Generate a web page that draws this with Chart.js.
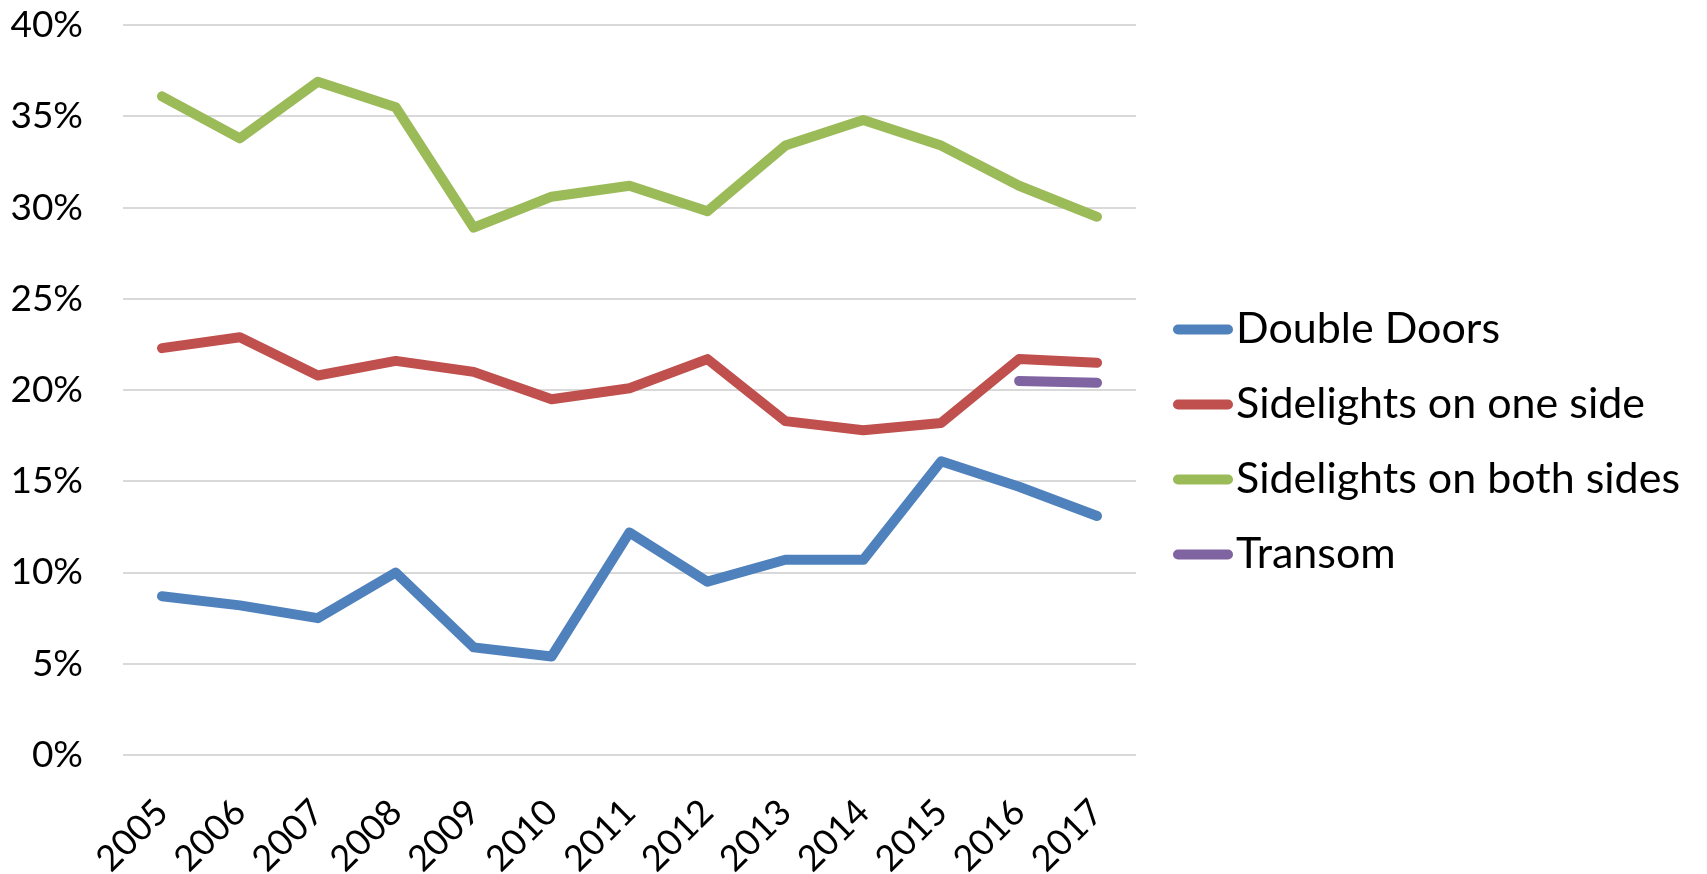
<!DOCTYPE html>
<html>
<head>
<meta charset="utf-8">
<script src="https://cdn.jsdelivr.net/npm/chart.js@4/dist/chart.umd.min.js"></script>
<style>
  html, body { margin: 0; padding: 0; background: #fff; }
  #wrap { width: 1707px; height: 874px; position: relative; }
</style>
</head>
<body>
<div id="wrap"><canvas id="c"></canvas></div>
<script>
const years = ['2005','2006','2007','2008','2009','2010','2011','2012','2013','2014','2015','2016','2017'];
const doubleDoors = [8.7, 8.2, 7.5, 10.0, 5.9, 5.4, 12.2, 9.5, 10.7, 10.7, 16.1, 14.7, 13.1];
const sidelightsOne = [22.3, 22.9, 20.8, 21.6, 21.0, 19.5, 20.1, 21.7, 18.3, 17.8, 18.2, 21.7, 21.5];
const sidelightsBoth = [36.1, 33.8, 36.9, 35.5, 28.9, 30.6, 31.2, 29.8, 33.4, 34.8, 33.4, 31.2, 29.5];
const transom = [null, null, null, null, null, null, null, null, null, null, null, 20.5, 20.4];
const yTicks = [0, 5, 10, 15, 20, 25, 30, 35, 40];

const seriesNames = ['Double Doors', 'Sidelights on one side', 'Sidelights on both sides', 'Transom'];
const seriesColors = ['#4F81BD', '#C0504D', '#9BBB59', '#8064A2'];
const seriesData = [doubleDoors, sidelightsOne, sidelightsBoth, transom];

const FONT = 'Lato, "Open Sans", sans-serif';

const datasets = seriesNames.map((name, i) => ({
  label: name,
  data: seriesData[i],
  borderColor: seriesColors[i],
  backgroundColor: seriesColors[i],
  borderWidth: 10,
  borderCapStyle: 'round',
  borderJoinStyle: 'round',
  pointRadius: 0,
  pointHoverRadius: 0,
  tension: 0,
  spanGaps: false,
  fill: false
}));

// Legend on the right, drawn from the chart's own datasets
const sideLegend = {
  id: 'sideLegend',
  afterDraw(chart) {
    const { ctx, chartArea } = chart;
    const dsList = chart.data.datasets;
    const x0 = chartArea.right + 42;
    const lineLen = 50;
    const rowH = 75;
    const cy = 442;
    ctx.save();
    ctx.font = '43px ' + FONT;
    ctx.textBaseline = 'middle';
    ctx.textAlign = 'left';
    dsList.forEach((ds, i) => {
      const y = cy + (i - (dsList.length - 1) / 2) * rowH;
      ctx.strokeStyle = ds.borderColor;
      ctx.lineWidth = 10;
      ctx.lineCap = 'round';
      ctx.beginPath();
      ctx.moveTo(x0, y);
      ctx.lineTo(x0 + lineLen, y);
      ctx.stroke();
      ctx.fillStyle = '#000';
      ctx.fillText(ds.label, x0 + lineLen + 8, y);
    });
    ctx.restore();
  }
};

new Chart(document.getElementById('c'), {
  type: 'line',
  data: { labels: years, datasets },
  plugins: [sideLegend],
  options: {
    responsive: true,
    maintainAspectRatio: false,
    animation: false,
    layout: { padding: { top: 1, left: 0, right: 571, bottom: 0 } },
    plugins: {
      tooltip: { enabled: false },
      legend: { display: false }
    },
    scales: {
      x: {
        offset: true,
        grid: { display: false, drawTicks: false },
        border: { display: false },
        afterFit: (scale) => { scale.height = 119; },
        ticks: {
          color: '#000',
          font: { family: FONT, size: 36 },
          minRotation: 45,
          maxRotation: 45,
          autoSkip: false,
          padding: 36
        }
      },
      y: {
        min: 0,
        max: 40,
        afterBuildTicks: (scale) => { scale.ticks = yTicks.map(v => ({ value: v })); },
        afterFit: (scale) => { scale.width = 123; },
        grid: { color: '#D9D9D9', lineWidth: 2, drawTicks: true, tickLength: 37, tickColor: 'rgba(0,0,0,0)' },
        border: { display: false },
        ticks: {
          color: '#000',
          font: { family: FONT, size: 37 },
          padding: 3,
          callback: (v) => v + '%'
        }
      }
    }
  }
});
</script>
</body>
</html>
